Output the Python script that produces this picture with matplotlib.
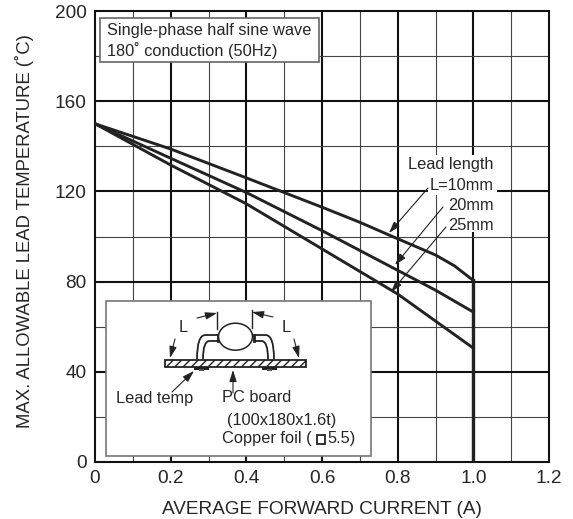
import matplotlib
matplotlib.use('Agg')
import matplotlib.pyplot as plt
from matplotlib.patches import Rectangle, Ellipse, PathPatch
from matplotlib.path import Path

current_10 = [0, 0.2, 0.4, 0.6, 0.7, 0.8, 0.9, 0.95, 1.0]
temp_10 = [150, 138.8, 126, 113, 106.3, 99, 91.8, 87, 80.5]
current_20 = [0, 0.2, 0.4, 0.6, 0.8, 0.9, 1.0]
temp_20 = [150, 134.7, 119.5, 102.6, 85, 76.2, 66.5]
current_25 = [0, 0.2, 0.4, 0.6, 0.8, 0.9, 1.0]
temp_25 = [150, 131.7, 114.5, 94.5, 74.5, 62.5, 50.5]
x_ticks = [0, 0.2, 0.4, 0.6, 0.8, 1.0, 1.2]
x_labels = ['0', '0.2', '0.4', '0.6', '0.8', '1.0', '1.2']
y_ticks = [0, 40, 80, 120, 160, 200]

W, H = 573, 519
TXT = '#262626'
NOTE = 11.8
plt.rcParams['font.family'] = ['Liberation Sans', 'DejaVu Sans']

fig = plt.figure(figsize=(W / 100, H / 100), dpi=100)
ax = fig.add_axes([95 / W, 1 - 462 / H, 454 / W, 451 / H])
ax.set_xlim(0, 1.2)
ax.set_ylim(0, 200)

# grid, thin every 0.1 / 20, heavy on the labelled values
for v in range(1, 12):
    if v % 2 == 0:
        ax.axvline(v / 10, color='#111111', lw=1.5, zorder=1)
    else:
        ax.axvline(v / 10, color='#444444', lw=0.8, zorder=1)
for v in range(20, 200, 20):
    if v % 40 == 0:
        ax.axhline(v, color='#111111', lw=1.5, zorder=1)
    else:
        ax.axhline(v, color='#444444', lw=0.8, zorder=1)

for s in ax.spines.values():
    s.set_linewidth(1.5)
    s.set_color('#111111')

ax.plot(current_10, temp_10, color='#222222', lw=2.1, zorder=3)
ax.plot(current_20, temp_20, color='#222222', lw=2.1, zorder=3)
ax.plot(current_25, temp_25, color='#222222', lw=2.1, zorder=3)
ax.plot([1.0, 1.0], [0, 80.5], color='#222222', lw=2.4, zorder=3)

ax.set_xticks(x_ticks, x_labels)
ax.set_yticks(y_ticks)
ax.tick_params(length=0, labelsize=13.7, labelcolor=TXT)
ax.tick_params(axis='x', pad=6)
ax.tick_params(axis='y', pad=6)
ax.set_xlabel('AVERAGE FORWARD CURRENT (A)', fontsize=13.7, color=TXT, labelpad=10)
ax.set_ylabel('MAX. ALLOWABLE LEAD TEMPERATURE (˚C)', fontsize=13.3, color=TXT, labelpad=15, y=0.511)

# overlay in pixel units for boxes and the board sketch
ov = fig.add_axes([0, 0, 1, 1], facecolor='none')
ov.set_xlim(0, W)
ov.set_ylim(H, 0)
ov.axis('off')

ov.add_patch(Rectangle((100, 18), 219, 44, fc='white', ec='#666666', lw=1.2, zorder=5))
ov.text(107, 30, 'Single-phase half sine wave', fontsize=NOTE, color=TXT, va='center', zorder=6)
ov.text(107, 50.5, '180˚ conduction (50Hz)', fontsize=NOTE, color=TXT, va='center', zorder=6)

ov.add_patch(Rectangle((105.5, 300.5), 265, 155, fc='white', ec='#777777', lw=1.2, zorder=5))

# curve labels, white patches knock the grid out behind them
ov.add_patch(Rectangle((405, 155), 92, 21, fc='white', ec='none', zorder=2))
ov.add_patch(Rectangle((428, 176), 69, 19, fc='white', ec='none', zorder=2))
ov.add_patch(Rectangle((447, 195), 50, 37, fc='white', ec='none', zorder=2))
ov.text(450.5, 165, 'Lead length', fontsize=NOTE, color=TXT, ha='center', va='center', zorder=6)
ov.text(494, 185, 'L=10mm', fontsize=NOTE, color=TXT, ha='right', va='center', zorder=6)
ov.text(494, 205, '20mm', fontsize=NOTE, color=TXT, ha='right', va='center', zorder=6)
ov.text(494, 225, '25mm', fontsize=NOTE, color=TXT, ha='right', va='center', zorder=6)


def arrow(x0, y0, x1, y1):
    ov.annotate('', xy=(x1, y1), xytext=(x0, y0), zorder=9,
                arrowprops=dict(arrowstyle='-|>,head_length=0.7,head_width=0.22', color='#222222',
                                lw=0.8, shrinkA=0, shrinkB=0))


arrow(428, 188, 389, 233)
arrow(443, 207, 395, 265)
arrow(446, 227, 391, 292)

# board
ov.add_patch(Rectangle((165, 359.5), 141, 7.5, fc='white', ec='#222222', lw=1.3, hatch='////', zorder=6))
cx = 235.5
for sx in (1, -1):
    outer = Path([(cx - sx * 38.5, 359), (cx - sx * 38.5, 335), (cx - sx * 30, 335), (cx - sx * 18, 335)],
                 [Path.MOVETO, Path.CURVE3, Path.CURVE3, Path.LINETO])
    inner = Path([(cx - sx * 32.5, 359), (cx - sx * 32.5, 341), (cx - sx * 26, 341), (cx - sx * 18, 341)],
                 [Path.MOVETO, Path.CURVE3, Path.CURVE3, Path.LINETO])
    ov.add_patch(PathPatch(outer, fc='none', ec='#222222', lw=1.3, zorder=6))
    ov.add_patch(PathPatch(inner, fc='none', ec='#222222', lw=1.3, zorder=6))
    ov.plot([cx - sx * 18, cx - sx * 18], [335, 341], color='#222222', lw=2, zorder=6)
    # solder pad under the board
    ov.add_patch(Rectangle((cx - sx * 34 - 7.5, 367), 15, 2.5, fc='#222222', ec='none', zorder=6))
    ov.add_patch(Rectangle((cx - sx * 34 - 2.5, 369), 5, 2, fc='#555555', ec='none', zorder=6))
ov.add_patch(Ellipse((cx, 336.7), 34, 27, fc='white', ec='#222222', lw=1.1, zorder=7))

# dimension marks
ov.plot([217, 217], [312, 329], color='#222222', lw=1, zorder=6)
ov.plot([252, 252], [310, 328], color='#222222', lw=1, zorder=6)
arrow(197, 318, 217, 313)
arrow(273, 317, 252, 312)
arrow(175, 339, 170, 358)
arrow(294, 339, 299, 358)
arrow(172, 392, 194, 371)
arrow(233, 393, 233, 370)

ov.text(183, 327, 'L', fontsize=NOTE, color=TXT, ha='center', va='center', zorder=8)
ov.text(286, 327, 'L', fontsize=NOTE, color=TXT, ha='center', va='center', zorder=8)
ov.text(116, 398, 'Lead temp', fontsize=NOTE, color=TXT, va='center', zorder=8)
ov.text(222, 398, 'PC board', fontsize=NOTE, color=TXT, va='center', zorder=8)
ov.text(227, 420, '(100x180x1.6t)', fontsize=NOTE, color=TXT, va='center', zorder=8)
ov.text(222, 439, 'Copper foil (', fontsize=NOTE, color=TXT, va='center', zorder=8)
ov.add_patch(Rectangle((316.5, 435), 8.5, 9, fc='none', ec='#222222', lw=1.3, zorder=8))
ov.text(327, 439, '5.5)', fontsize=NOTE, color=TXT, va='center', zorder=8)

fig.savefig('out.png', dpi=100)
